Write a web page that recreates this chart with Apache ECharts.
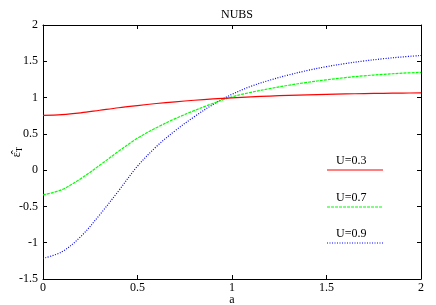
<!DOCTYPE html>
<html>
<head>
<meta charset="utf-8">
<script src="https://cdn.jsdelivr.net/npm/echarts@6/dist/echarts.min.js"></script>
<style>html,body{margin:0;padding:0;background:#fff}#c{width:436px;height:305px}</style>
</head>
<body>
<div id="c"></div>
<script>
var aValues = [0,0.1,0.2,0.3,0.4,0.5,0.6,0.7,0.8,0.9,1.0,1.1,1.2,1.3,1.4,1.5,1.6,1.7,1.8,1.9,2.0];
var u03 = [0.755,0.765,0.79,0.825,0.86,0.89,0.918,0.942,0.963,0.981,0.996,1.01,1.021,1.03,1.038,1.045,1.05,1.055,1.059,1.062,1.065];
var u07 = [-0.343,-0.268,-0.118,0.067,0.26,0.44,0.585,0.71,0.82,0.92,1.01,1.072,1.124,1.17,1.21,1.245,1.275,1.30,1.32,1.336,1.348];
var u09 = [-1.215,-1.125,-0.915,-0.615,-0.285,0.055,0.325,0.545,0.735,0.905,1.045,1.155,1.24,1.312,1.374,1.426,1.469,1.505,1.535,1.56,1.58];
var seriesNames = ['U=0.3','U=0.7','U=0.9'];
var xTicks = [0,0.5,1,1.5,2];
var yTicks = [-1.5,-1,-0.5,0,0.5,1,1.5,2];

var font = "'Liberation Serif', 'Times New Roman', serif";
function pairs(v){ return aValues.map(function(a,i){ return [a, v[i]]; }); }
var colors = ['#ff0000','#00ff00','#0000ff'];
var dashes = ['solid',[3,1],[1,1.5]];
var seriesData = [u03,u07,u09];

var chart = echarts.init(document.getElementById('c'), null, {renderer:'canvas'});
var axisCommon = {
  axisLine:{show:true,onZero:false,lineStyle:{color:'#000',width:1}},
  axisTick:{show:true,inside:true,length:4,lineStyle:{color:'#000'}},
  splitLine:{show:false}
};
var legendGraphics = [];
var legendYs = [170,207,243];
seriesNames.forEach(function(n,i){
  legendGraphics.push({type:'text',left:336,top:legendYs[i]-15,style:{text:n,font:'12px '+font,fill:'#000'}});
  legendGraphics.push({type:'line',shape:{x1:327,y1:legendYs[i],x2:383,y2:legendYs[i]},style:{stroke:colors[i],lineWidth:1.2,lineDash:dashes[i]==='solid'?null:dashes[i]}});
});
chart.setOption({
  animation:false,
  backgroundColor:'#fff',
  title:{text:'NUBS',left:232,top:4,textAlign:'center',textStyle:{fontFamily:font,fontSize:12,fontWeight:'normal',color:'#000'}},
  grid:{left:43,right:15,top:25,bottom:26,containLabel:false,outerBoundsMode:'none'},
  xAxis:[
    Object.assign({type:'value',min:0,max:2,interval:0.5,position:'bottom',name:'a',nameLocation:'middle',nameGap:15,nameMoveOverlap:false,
      nameTextStyle:{fontFamily:font,fontSize:12,color:'#000'},
      axisLabel:{fontFamily:font,fontSize:12,color:'#000',margin:3}},axisCommon),
    Object.assign({type:'value',min:0,max:2,interval:0.5,position:'top',axisLabel:{show:false}},axisCommon)
  ],
  yAxis:[
    Object.assign({type:'value',min:-1.5,max:2,interval:0.5,position:'left',
      name:'{e|ε̂}{s|T}',nameLocation:'middle',nameGap:19,nameRotate:90,nameMoveOverlap:false,
      nameTextStyle:{rich:{e:{fontFamily:font,fontSize:12,color:'#000'},s:{fontFamily:font,fontSize:9,color:'#000',padding:[5,0,0,0]}}},
      axisLabel:{fontFamily:font,fontSize:12,color:'#000',margin:5}},axisCommon),
    Object.assign({type:'value',min:-1.5,max:2,interval:0.5,position:'right',axisLabel:{show:false}},axisCommon)
  ],
  graphic:legendGraphics,
  series: seriesData.map(function(d,i){
    return {type:'line',name:seriesNames[i],data:pairs(d),smooth:0.35,showSymbol:false,symbol:'none',
      lineStyle:{color:colors[i],width:1.2,type:dashes[i]},z:10-i};
  })
});
</script>
</body>
</html>
